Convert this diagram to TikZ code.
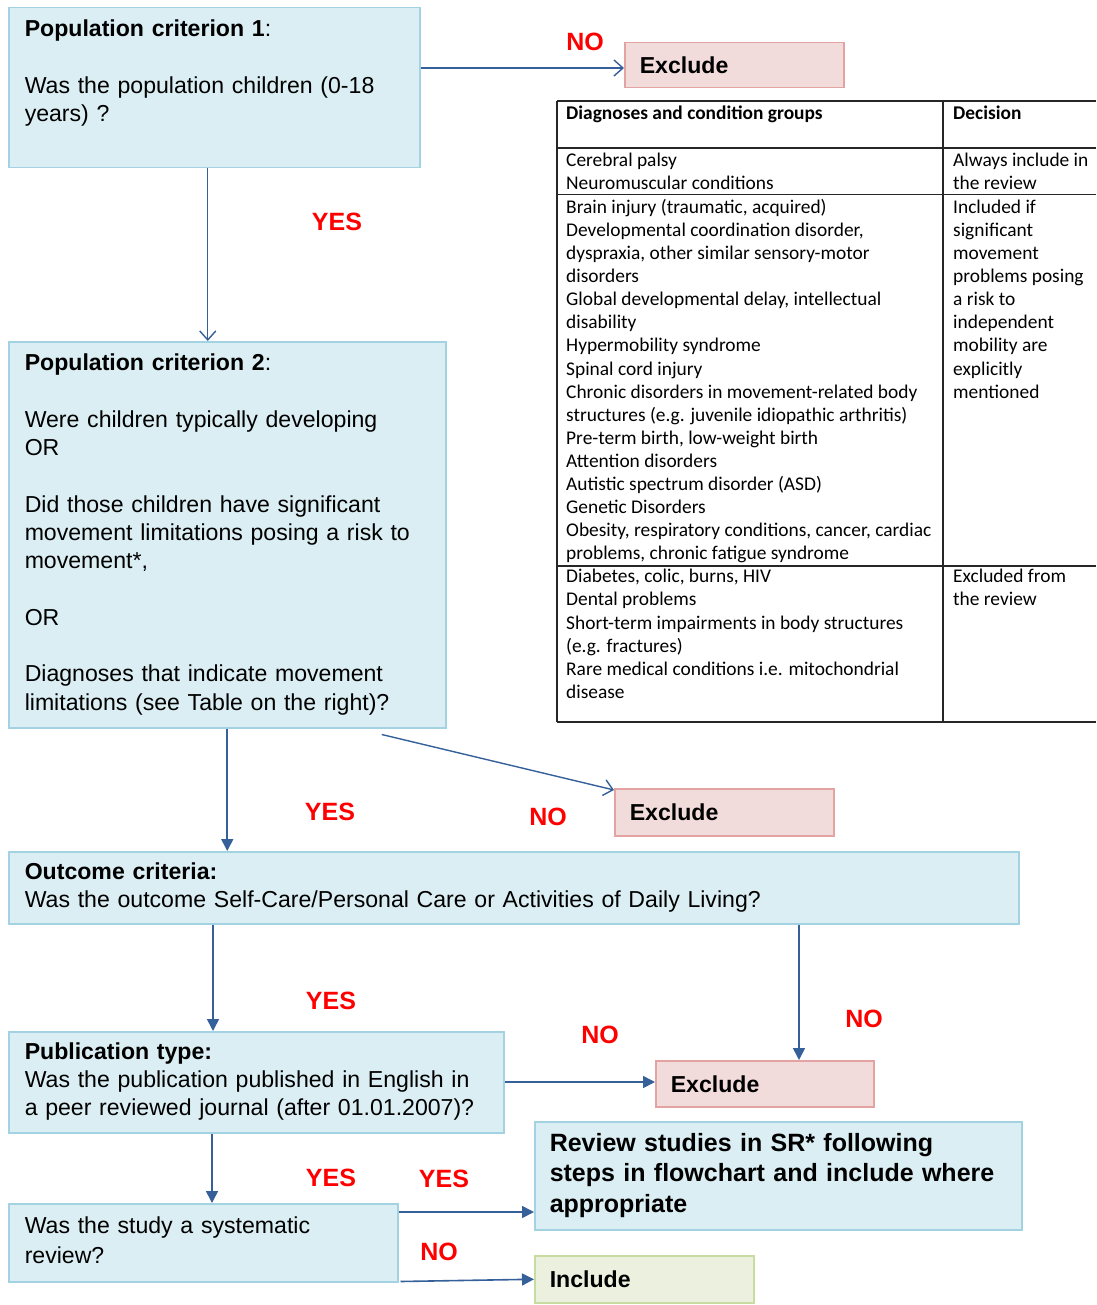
\documentclass[tikz,border=0pt]{standalone}
\usepackage{fontspec}
\setmainfont{Liberation Sans}
\newfontfamily\tabfont{Carlito}
\usetikzlibrary{arrows.meta,calc}
\definecolor{bluefill}{HTML}{DAEEF3}
\definecolor{bluebd}{HTML}{A3D3E2}
\definecolor{pinkfill}{HTML}{F2DCDB}
\definecolor{pinkbd}{HTML}{E3A3A2}
\definecolor{greenfill}{HTML}{EBF1DE}
\definecolor{greenbd}{HTML}{C9DCA0}
\definecolor{arrowc}{HTML}{35609A}
\newcommand\ftext{\fontsize{23.1}{28.3}\selectfont}
\newcommand\ftextb{\fontsize{23.1}{30.5}\selectfont\bfseries}
\begin{document}
\begin{tikzpicture}[x=1pt,y=-1pt,
  qbox/.style={draw=bluebd, fill=bluefill, line width=1.5pt, anchor=north west, align=left, inner xsep=16pt, inner ysep=0pt, font=\ftext},
  xbox/.style={draw=pinkbd, fill=pinkfill, line width=1.5pt, anchor=north west, align=left, inner xsep=15pt, inner ysep=0pt, font=\ftextb, minimum height=46pt},
  ibox/.style={draw=greenbd, fill=greenfill, line width=1.5pt, anchor=north west, align=left, inner xsep=15pt, inner ysep=0pt, font=\ftextb, minimum height=47pt},
  lab/.style={text=red, inner sep=0pt, font=\fontsize{25}{30}\selectfont\bfseries},
  openarr/.style={draw=arrowc, line width=1.4pt, -{Straight Barb[length=9pt,width=16pt]}},
  fillarr/.style={draw=arrowc, line width=1.6pt, -{Triangle[length=12pt,width=12pt]}},
  cell/.style={anchor=north west, inner sep=0pt, align=left, font=\tabfont\fontsize{19.4}{23.1}\selectfont},
  tline/.style={line width=1.8pt, draw=black!85}]
\useasboundingbox[fill=white] (0,0) rectangle (1096,1305);

% ---------- boxes ----------
\node[qbox, minimum width=411pt, minimum height=160pt, text width=379pt] (b1) at (8,7)
  {\strut\textbf{Population criterion 1}:\\[28.3pt]Was the population children (0-18\\years) ?\rule[-37pt]{0pt}{0pt}};
\node[xbox, minimum width=219pt, minimum height=45pt, text width=189pt] (e1) at (624,42) {Exclude};

\node[qbox, minimum width=437pt, minimum height=386pt, text width=405pt] (b2) at (8,341)
  {\strut\textbf{Population criterion 2}:\\[28.3pt]
   Were children typically developing\\OR\\[28.3pt]
   Did those children have significant\\movement limitations posing a risk to\\movement*,\\[28.3pt]
   OR\\[28.3pt]
   Diagnoses that indicate movement\\limitations (see Table on the right)?\strut};
\node[xbox, minimum width=219pt, minimum height=47pt, text width=189pt] (e2) at (614,788) {Exclude};

\node[qbox, minimum width=1010pt, minimum height=72pt, text width=978pt] (oc) at (8,851)
  {\strut\textbf{Outcome criteria:}\\Was the outcome Self-Care/Personal Care or Activities of Daily Living?\strut};

\node[qbox, minimum width=495pt, minimum height=101pt, text width=463pt, font=\fontsize{23.1}{28}\selectfont] (pub) at (8,1031)
  {\strut\textbf{Publication type:}\\Was the publication published in English in\\a peer reviewed journal (after 01.01.2007)?\strut};
\node[xbox, minimum width=218pt, minimum height=46pt, text width=188pt] (e3) at (655,1060) {Exclude};

\node[qbox, minimum width=389pt, minimum height=78pt, text width=357pt, font=\fontsize{23.1}{30}\selectfont] (sr) at (8,1203)
  {\strut Was the study a systematic\\review?\strut};
\node[qbox, minimum width=487pt, minimum height=108pt, text width=457pt, inner xsep=15pt, font=\fontsize{25}{30.5}\selectfont\bfseries] (rv) at (534,1121)
  {\strut Review studies in SR* following\\steps in flowchart and include where\\appropriate\strut};
\node[ibox, minimum width=219pt, text width=189pt] (inc) at (534,1255) {Include};

% ---------- table ----------
\draw[tline] (557,101) -- (1096,101);
\draw[tline] (557,148) -- (1096,148);
\draw[tline] (557,194.5) -- (1096,194.5);
\draw[tline] (557,566) -- (1096,566);
\draw[tline] (557,722) -- (1096,722);
\draw[tline] (557,101) -- (557,722);
\draw[tline] (943,101) -- (943,722);

\node[cell] (th1) at (566,103.5) {\strut\textbf{Diagnoses and condition groups}};
\node[cell] (th2) at (953,103.5) {\strut\textbf{Decision}};
\node[cell] (t11) at (566,150) {\strut Cerebral palsy\\Neuromuscular conditions};
\node[cell] (t12) at (953,150) {\strut Always include in\\the review};
\node[cell] (t21) at (566,197) {\strut Brain injury (traumatic, acquired)\\
  Developmental coordination disorder,\\
  dyspraxia, other similar sensory-motor\\
  disorders\\
  Global developmental delay, intellectual\\
  disability\\
  Hypermobility syndrome\\
  Spinal cord injury\\
  Chronic disorders in movement-related body\\
  structures (e.g. juvenile idiopathic arthritis)\\
  Pre-term birth, low-weight birth\\
  Attention disorders\\
  Autistic spectrum disorder (ASD)\\
  Genetic Disorders\\
  Obesity, respiratory conditions, cancer, cardiac\\
  problems, chronic fatigue syndrome};
\node[cell] (t22) at (953,197) {\strut Included if\\significant\\movement\\problems posing\\a risk to\\independent\\mobility are\\explicitly\\mentioned};
\node[cell] (t31) at (566,566.5) {\strut Diabetes, colic, burns, HIV\\
  Dental problems\\
  Short-term impairments in body structures\\
  (e.g. fractures)\\
  Rare medical conditions i.e. mitochondrial\\
  disease};
\node[cell] (t32) at (953,566.5) {\strut Excluded from\\the review};

% ---------- connector anchors ----------
\coordinate (p1) at ($(b1.south)+(-6.5,0)$);
\coordinate (p2) at ($(b2.south)+(154.5,6)$);
\coordinate (p3) at ($(e2.north west)+(0,2)$);
\coordinate (p4) at ($(oc.south west)+(205,0)$);
\coordinate (p5) at ($(oc.south west)+(791,0)$);
\coordinate (p6) at ($(pub.south west)+(204,0)$);
\coordinate (p7) at ($(sr.north east)+(0,9)$);
\coordinate (p8) at ($(sr.south east)+(2,-1)$);

% ---------- connectors ----------
\draw[openarr] (b1.east |- 0,68) -- (e1.west |- 0,68);
\draw[openarr] (p1) -- (p1 |- b2.north);
\draw[openarr] (p2) -- (p3);
\draw[fillarr] (b2.south) -- (b2.south |- oc.north);
\draw[fillarr] (p4) -- (p4 |- pub.north);
\draw[fillarr] (p5) -- (p5 |- e3.north);
\draw[fillarr] (pub.east |- 0,1082) -- (e3.west |- 0,1082);
\draw[fillarr] (p6) -- (p6 |- sr.north);
\draw[fillarr] (p7) -- (p7 -| rv.west);
\draw[fillarr] (p8) -- (inc.west);

% ---------- labels ----------
\node[lab] (no1) at (585,42) {NO};
\node[lab] (yes1) at (337,222) {YES};
\node[lab] (yes2) at (330,812) {YES};
\node[lab] (no2) at (548,817) {NO};
\node[lab] (yes3) at (331,1001) {YES};
\node[lab] (no3) at (864,1019) {NO};
\node[lab] (no4) at (600,1035) {NO};
\node[lab] (yes4) at (331,1178) {YES};
\node[lab] (yes5) at (444,1179) {YES};
\node[lab] (no5) at (439,1252) {NO};
\end{tikzpicture}
\end{document}
